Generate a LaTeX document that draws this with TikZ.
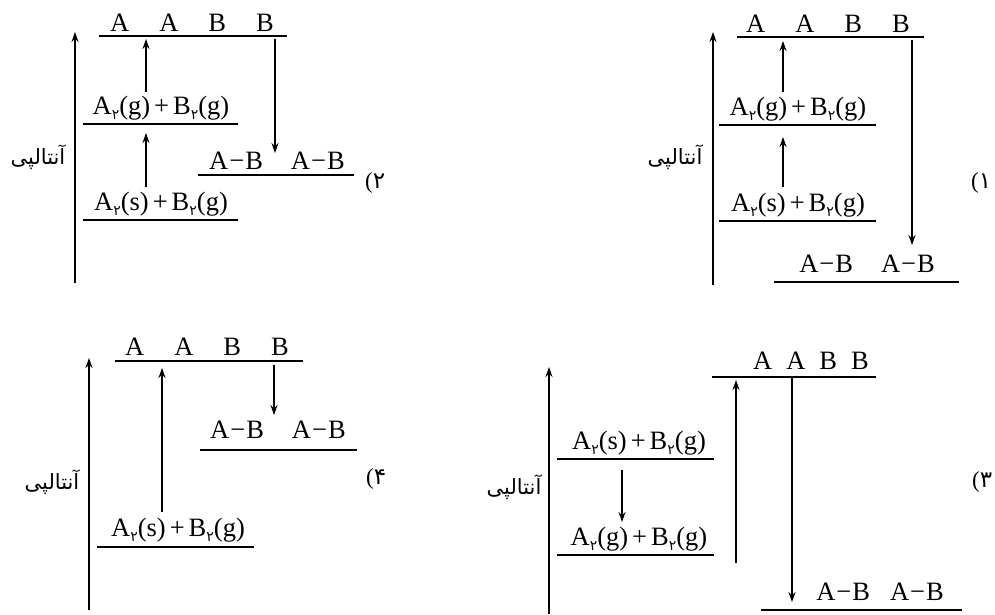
\documentclass[tikz,border=0pt]{standalone}
\usepackage{fontspec}
\setmainfont{Liberation Serif}
\newfontfamily\fadig{DejaVu Sans}
\newfontfamily\arabicfont[Script=Arabic]{DejaVu Sans}
\TeXXeTstate=1
\usetikzlibrary{arrows.meta}
\newcommand{\subtwo}{\raisebox{-5pt}{\fadig\fontsize{14}{14}\selectfont ۲}}
\newcommand{\plussp}{\hspace{4pt}+\hspace{4pt}}
\newcommand{\AgBg}{A\subtwo(g)\plussp B\subtwo(g)}
\newcommand{\AsBg}{A\subtwo(s)\plussp B\subtwo(g)}
\newcommand{\minussign}{\hspace{1pt}−\hspace{1pt}}
\begin{document}
\begin{tikzpicture}[x=1pt,y=-1pt,
  lvl/.style={line width=1.7pt},
  rx/.style={line width=1.3pt,-{Stealth[length=10pt,width=7pt]}},
  axis/.style={line width=1.4pt,-{Stealth[length=10pt,width=7pt]}},
  formula/.style={inner sep=0pt,anchor=base,font=\fontsize{26.5}{30}\selectfont},
  ylab/.style={inner sep=0pt,font=\arabicfont\fontsize{21}{24}\selectfont},
  num/.style={inner sep=0pt,anchor=west,font=\fontsize{23}{26}\selectfont}]
\useasboundingbox (0,0) rectangle (995,614);

% ---------- panel 2 (top-left) ----------
\coordinate (ax2b) at (75,283); \coordinate (ax2t) at (75,32);
\draw[axis] (ax2b) -- (ax2t);
\node[ylab] (y2) at (38,157) {\beginR آنتالپی\endR};
\coordinate (t2l) at (99,36); \coordinate (t2r) at (287,36);
\draw[lvl] (t2l) -- (t2r);
\node[formula] (t2) at (192,31) {A\hspace{30pt}A\hspace{30pt}B\hspace{30pt}B};
\coordinate (m2l) at (83,124); \coordinate (m2r) at (238,124);
\draw[lvl] (m2l) -- (m2r);
\node[formula] (m2) at (161,114) {\AgBg};
\coordinate (l2l) at (83,220); \coordinate (l2r) at (238,220);
\draw[lvl] (l2l) -- (l2r);
\node[formula] (l2) at (161,210) {\AsBg};
\coordinate (p2a) at (146,92); \coordinate (p2b) at (146,39);
\draw[rx] (p2a) -- (p2b);
\coordinate (p2c) at (146,187); \coordinate (p2d) at (146,133);
\draw[rx] (p2c) -- (p2d);
\coordinate (p2e) at (275,39); \coordinate (p2f) at (275,153);
\draw[rx] (p2e) -- (p2f);
\coordinate (b2l) at (198,175); \coordinate (b2r) at (354,175);
\draw[lvl] (b2l) -- (b2r);
\node[formula] (b2) at (277,169) {A\minussign B\hspace{28pt}A\minussign B};
\node[num] (n2) at (365,183) {(\fadig ۲};

% ---------- panel 1 (top-right) ----------
\coordinate (ax1b) at (713,285); \coordinate (ax1t) at (713,32);
\draw[axis] (ax1b) -- (ax1t);
\node[ylab] (y1) at (675,157) {\beginR آنتالپی\endR};
\coordinate (t1l) at (737,37); \coordinate (t1r) at (924,37);
\draw[lvl] (t1l) -- (t1r);
\node[formula] (t1) at (828,32) {A\hspace{30pt}A\hspace{30pt}B\hspace{30pt}B};
\coordinate (m1l) at (719,125); \coordinate (m1r) at (876,125);
\draw[lvl] (m1l) -- (m1r);
\node[formula] (m1) at (798,115) {\AgBg};
\coordinate (l1l) at (719,221); \coordinate (l1r) at (876,221);
\draw[lvl] (l1l) -- (l1r);
\node[formula] (l1) at (798,211) {\AsBg};
\coordinate (p1a) at (783,92); \coordinate (p1b) at (783,41);
\draw[rx] (p1a) -- (p1b);
\coordinate (p1c) at (783,187); \coordinate (p1d) at (783,137);
\draw[rx] (p1c) -- (p1d);
\coordinate (p1e) at (912,40); \coordinate (p1f) at (912,245);
\draw[rx] (p1e) -- (p1f);
\coordinate (b1l) at (774,282); \coordinate (b1r) at (959,282);
\draw[lvl] (b1l) -- (b1r);
\node[formula] (b1) at (867,272) {A\minussign B\hspace{28pt}A\minussign B};
\node[num] (n1) at (971,183) {(\fadig ۱};

% ---------- panel 4 (bottom-left) ----------
\coordinate (ax4b) at (89,610); \coordinate (ax4t) at (89,358);
\draw[axis] (ax4b) -- (ax4t);
\node[ylab] (y4) at (52,482) {\beginR آنتالپی\endR};
\coordinate (t4l) at (115,361); \coordinate (t4r) at (303,361);
\draw[lvl] (t4l) -- (t4r);
\node[formula] (t4) at (207,355) {A\hspace{30pt}A\hspace{30pt}B\hspace{30pt}B};
\coordinate (p4a) at (162,512); \coordinate (p4b) at (162,368);
\draw[rx] (p4a) -- (p4b);
\coordinate (p4c) at (274,365); \coordinate (p4d) at (274,415);
\draw[rx] (p4c) -- (p4d);
\coordinate (b4l) at (200,450); \coordinate (b4r) at (357,450);
\draw[lvl] (b4l) -- (b4r);
\node[formula] (b4) at (278,438) {A\minussign B\hspace{28pt}A\minussign B};
\coordinate (l4l) at (97,547); \coordinate (l4r) at (254,547);
\draw[lvl] (l4l) -- (l4r);
\node[formula] (l4) at (178,536) {\AsBg};
\node[num] (n4) at (366,479) {(\fadig ۴};

% ---------- panel 3 (bottom-right) ----------
\coordinate (ax3b) at (549,614); \coordinate (ax3t) at (549,367);
\draw[axis] (ax3b) -- (ax3t);
\node[ylab] (y3) at (514,487) {\beginR آنتالپی\endR};
\coordinate (t3l) at (712,377); \coordinate (t3r) at (876,377);
\draw[lvl] (t3l) -- (t3r);
\node[formula] (t3) at (811,369) {A\hspace{14pt}A\hspace{14pt}B\hspace{14pt}B};
\coordinate (p3a) at (736,563); \coordinate (p3b) at (736,380);
\draw[rx] (p3a) -- (p3b);
\coordinate (p3c) at (792,377); \coordinate (p3d) at (792,602);
\draw[rx] (p3c) -- (p3d);
\coordinate (b3l) at (761,610); \coordinate (b3r) at (962,610);
\draw[lvl] (b3l) -- (b3r);
\node[formula] (b3) at (880,600) {A\minussign B\hspace{20pt}A\minussign B};
\coordinate (u3l) at (557,459); \coordinate (u3r) at (714,459);
\draw[lvl] (u3l) -- (u3r);
\node[formula] (u3) at (639,449) {\AsBg};
\coordinate (p3e) at (622,470); \coordinate (p3f) at (622,522);
\draw[rx] (p3e) -- (p3f);
\coordinate (w3l) at (557,555); \coordinate (w3r) at (714,555);
\draw[lvl] (w3l) -- (w3r);
\node[formula] (w3) at (639,545) {\AgBg};
\node[num] (n3) at (972,482) {(\fadig ۳};
\end{tikzpicture}
\end{document}
